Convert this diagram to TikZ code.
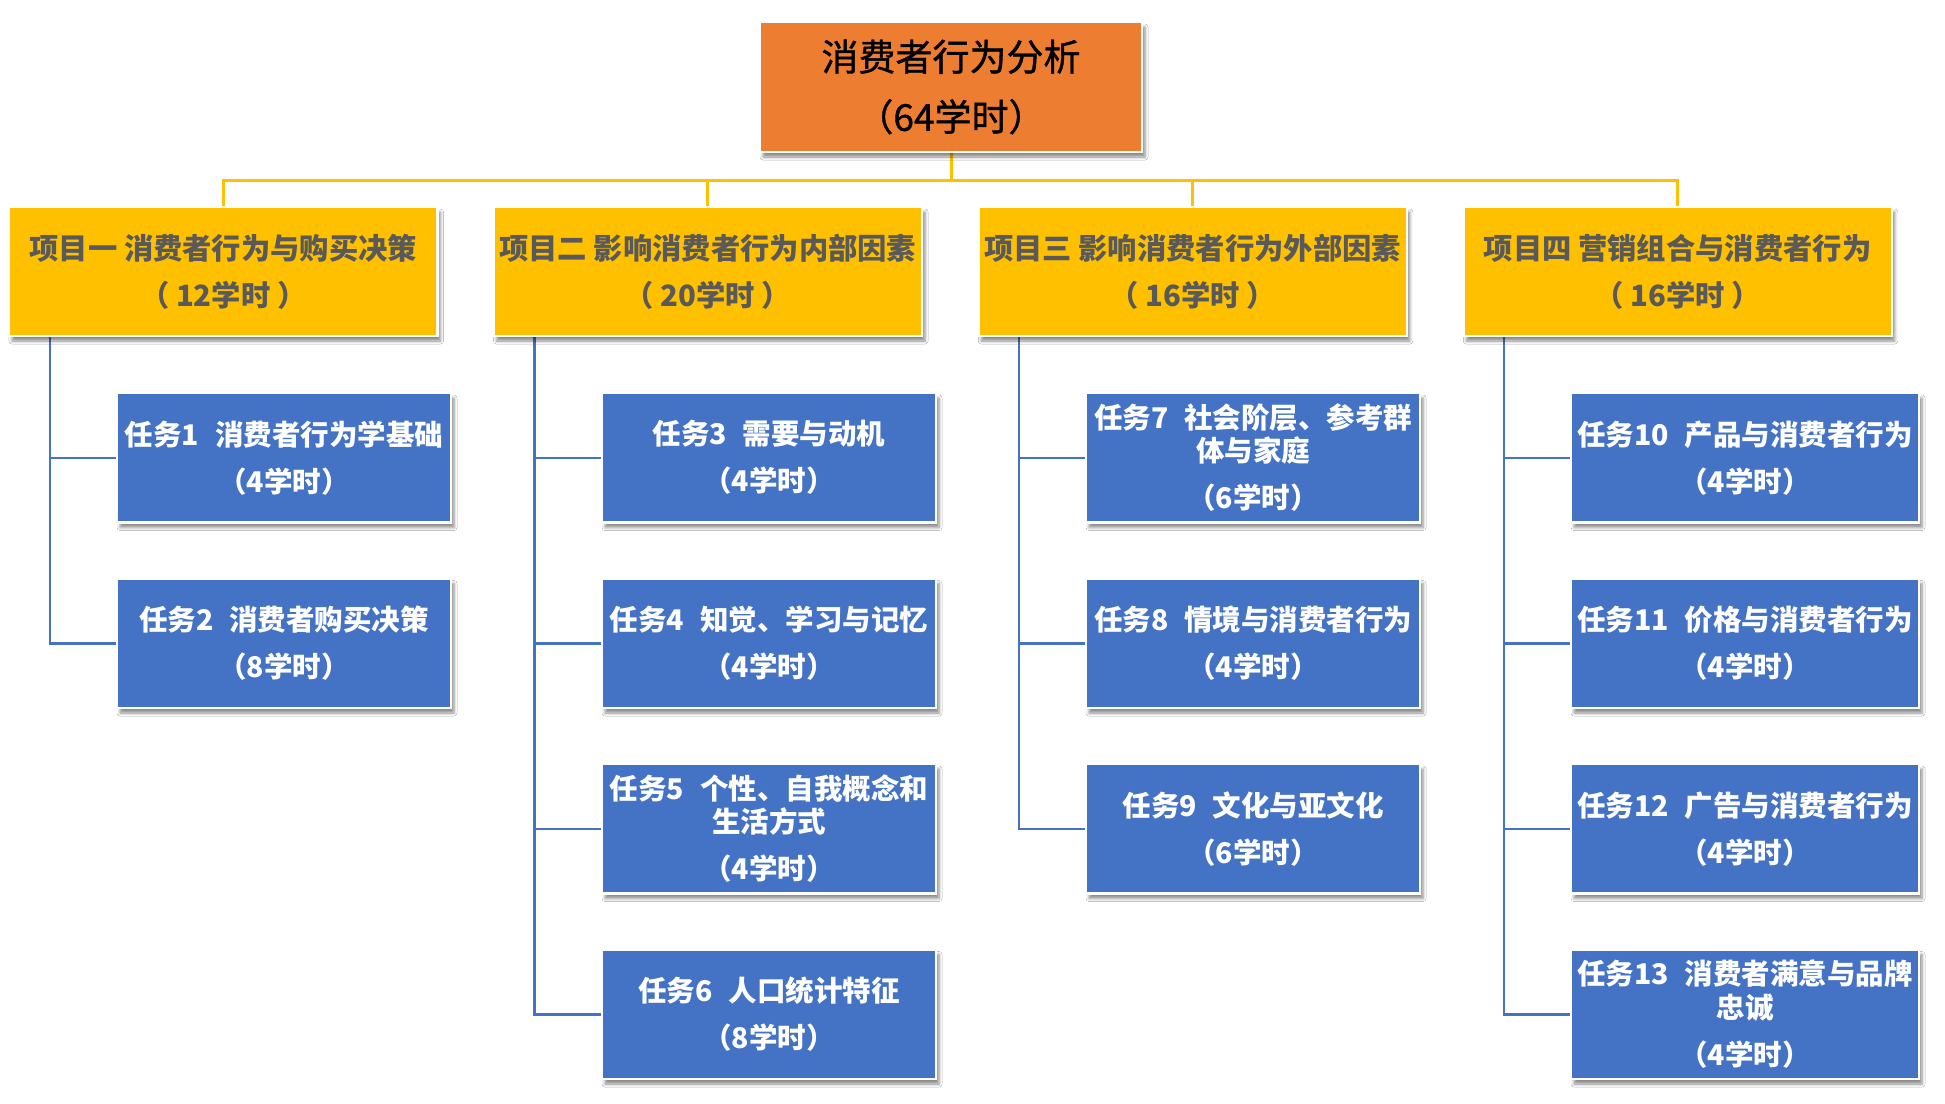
\documentclass[tikz,border=0pt]{standalone}
\usepackage{fontspec}
\setmainfont{Noto Sans CJK SC}
\newfontfamily\titlefont[FakeBold=1]{Noto Sans CJK SC}
\usetikzlibrary{shadows.blur,backgrounds}
\definecolor{rootc}{HTML}{ED7D31}
\definecolor{projc}{HTML}{FFC000}
\definecolor{taskc}{HTML}{4472C4}
\definecolor{projtext}{HTML}{595959}
\newcommand\tgap{\hspace{0.55em}}
\tikzset{
  box/.style={draw=white, line width=2.5pt, inner sep=0pt, align=center,
    blur shadow={shadow xshift=3pt, shadow yshift=-5pt, shadow blur radius=3pt,
      shadow blur steps=5, shadow opacity=45}},
  rootbox/.style={box, fill=rootc, minimum width=382pt, minimum height=130pt,
    font=\titlefont\fontsize{37}{42}\selectfont, text=black},
  projbox/.style={box, fill=projc, minimum width=428.5pt, minimum height=129pt,
    font=\fontsize{29.3}{33}\selectfont\bfseries, text=projtext},
  taskbox/.style={box, fill=taskc, minimum width=334pt, minimum height=129.5pt,
    font=\fontsize{28.5}{33.5}\selectfont\bfseries, text=white},
  widetask/.style={taskbox, minimum width=348pt},
  projline/.style={draw=projc, line width=3pt},
  taskline/.style={draw=taskc, line width=2.5pt},
}
\begin{document}
\begin{tikzpicture}[x=1pt,y=-1pt]
\useasboundingbox (0,0) rectangle (1945,1103);
% root
\node[rootbox] (root) at (951,87) {消费者行为分析\\[18pt]（64学时）};
% projects
\node[projbox] (p1) at (223.25,271.5) {项目一 消费者行为与购买决策\\[14pt]（ 12学时 ）};
\node[projbox] (p2) at (707.75,271.5) {项目二 影响消费者行为内部因素\\[14pt]（ 20学时 ）};
\node[projbox] (p3) at (1192.5,271.5) {项目三 影响消费者行为外部因素\\[14pt]（ 16学时 ）};
\node[projbox] (p4) at (1677.5,271.5) {项目四 营销组合与消费者行为\\[14pt]（ 16学时 ）};
% tasks column 1
\node[taskbox] (t1) at (284,457.75) {任务1\tgap 消费者行为学基础\\[13.5pt]（4学时）};
\node[taskbox] (t2) at (284,643.25) {任务2\tgap 消费者购买决策\\[13.5pt]（8学时）};
% column 2
\node[taskbox] (t3) at (769,457.75) {任务3\tgap 需要与动机\\[13.5pt]（4学时）};
\node[taskbox] (t4) at (769,643.25) {任务4\tgap 知觉、学习与记忆\\[13.5pt]（4学时）};
\node[taskbox] (t5) at (769,828.75) {任务5\tgap 个性、自我概念和\\生活方式\\[13.5pt]（4学时）};
\node[taskbox] (t6) at (769,1014.25) {任务6\tgap 人口统计特征\\[13.5pt]（8学时）};
% column 3
\node[taskbox] (t7) at (1253,457.75) {任务7\tgap 社会阶层、参考群\\体与家庭\\[13.5pt]（6学时）};
\node[taskbox] (t8) at (1253,643.25) {任务8\tgap 情境与消费者行为\\[13.5pt]（4学时）};
\node[taskbox] (t9) at (1253,828.75) {任务9\tgap 文化与亚文化\\[13.5pt]（6学时）};
% column 4
\node[widetask] (t10) at (1745,457.75) {任务10\tgap 产品与消费者行为\\[13.5pt]（4学时）};
\node[widetask] (t11) at (1745,643.25) {任务11\tgap 价格与消费者行为\\[13.5pt]（4学时）};
\node[widetask] (t12) at (1745,828.75) {任务12\tgap 广告与消费者行为\\[13.5pt]（4学时）};
\node[widetask] (t13) at (1745,1014.25) {任务13\tgap 消费者满意与品牌\\忠诚\\[13.5pt]（4学时）};
\begin{scope}[on background layer]
  \fill[white] (0,0) rectangle (1945,1103);
  \foreach \p in {p1,p2,p3,p4}
    \draw[projline] (root.south) -- ++(0,27) -| (\p.north);
  \foreach \t/\p in {t1/p1,t2/p1,t3/p2,t4/p2,t5/p2,t6/p2,t7/p3,t8/p3,t9/p3,t10/p4,t11/p4,t12/p4,t13/p4}
    \draw[taskline] (\t.west) -| ([xshift=42pt]\p.south west);
\end{scope}
\end{tikzpicture}
\end{document}
